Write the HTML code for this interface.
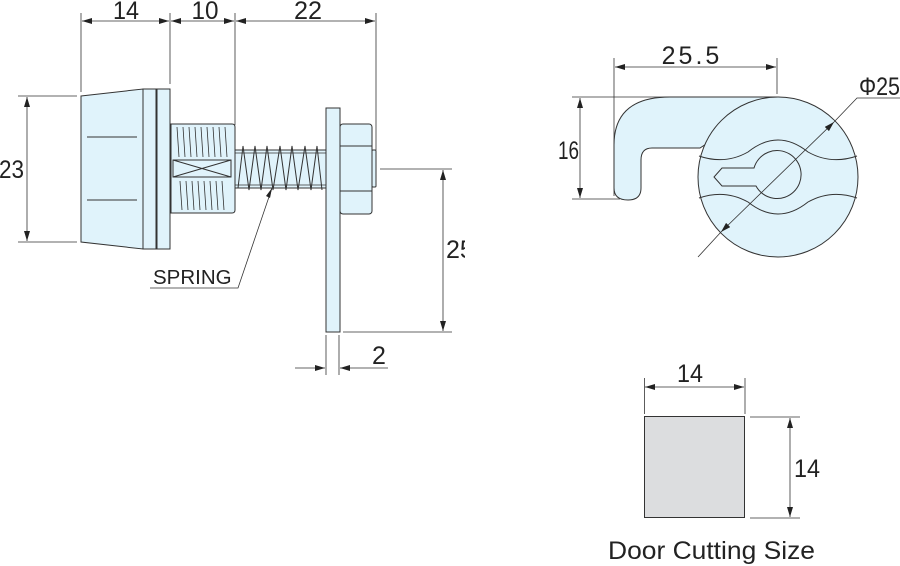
<!DOCTYPE html>
<html><head><meta charset="utf-8"><style>
html,body{margin:0;padding:0;background:#fff;width:900px;height:566px;overflow:hidden}
svg{display:block}
text{font-family:"Liberation Sans",sans-serif;fill:#222}
</style></head><body>
<svg width="900" height="566" viewBox="0 0 900 566" xmlns="http://www.w3.org/2000/svg">
<defs>
<marker id="a" viewBox="0 0 10 6" refX="10" refY="3" markerWidth="10" markerHeight="6" orient="auto-start-reverse" markerUnits="userSpaceOnUse"><path d="M0,0 L10,3 L0,6z" fill="#222"/></marker>
</defs>
<g stroke="#333" stroke-width="1" fill="#e0f3fb">
<path d="M81,96 L143,89 L143,249 L81,242 Z"/>
<rect x="143" y="89" width="13" height="160"/>
<rect x="157" y="89" width="13" height="160"/>
<line x1="156.5" y1="89" x2="156.5" y2="249" stroke-width="2"/>
<line x1="87" y1="137" x2="137" y2="137"/>
<line x1="87" y1="200" x2="137" y2="200"/>
<path d="M171,124 L232,124 Q235,124 235,127 L235,210 Q235,213 232,213 L171,213 Z"/>
<rect x="173" y="160" width="58" height="17"/>
<line x1="173" y1="160" x2="231" y2="177"/><line x1="173" y1="177" x2="231" y2="160"/>
<g stroke-width="0.8">
<path d="M177,127 l2,30 M183,127 l2,30 M189,127 l2,30 M195,127 l2,30 M201,127 l2,30 M207,127 l2,30 M213,127 l2,30 M219,127 l2,30 M225,127 l2,30"/>
<path d="M180,181 l2,29 M186,181 l2,29 M192,181 l2,29 M198,181 l2,29 M204,181 l2,29 M210,181 l2,29 M216,181 l2,29 M222,181 l2,29"/>
</g>
<rect x="235" y="150" width="91" height="38"/>
<line x1="235" y1="153" x2="326" y2="153" stroke-width="0.7"/>
<line x1="235" y1="185" x2="326" y2="185" stroke-width="0.7"/>
<path fill="none" d="M238,188 L243,146 L249,190 L255,146 L261,190 L267,146 L273,190 L280,146 L286,190 L292,146 L298,190 L305,146 L311,190 L317,146 L322,190"/>
<rect x="326" y="108" width="14" height="224"/>
<rect x="372" y="150" width="4" height="37" rx="1"/>
<rect x="340" y="124" width="32" height="90" rx="3"/>
<line x1="340" y1="146" x2="372" y2="146"/>
<line x1="340" y1="191" x2="372" y2="191"/>
</g>
<g stroke="#333" stroke-width="0.8" fill="none">
<line x1="81" y1="13" x2="81" y2="92"/>
<line x1="170" y1="13" x2="170" y2="84"/>
<line x1="235" y1="13" x2="235" y2="125"/>
<line x1="376" y1="13" x2="376" y2="150"/>
<line x1="82" y1="21" x2="169" y2="21" marker-start="url(#a)" marker-end="url(#a)"/>
<line x1="171" y1="21" x2="234" y2="21" marker-start="url(#a)" marker-end="url(#a)"/>
<line x1="236" y1="21" x2="375" y2="21" marker-start="url(#a)" marker-end="url(#a)"/>
<line x1="18" y1="96" x2="77" y2="96"/>
<line x1="18" y1="242" x2="77" y2="242"/>
<line x1="27" y1="97" x2="27" y2="241" marker-start="url(#a)" marker-end="url(#a)"/>
<line x1="380" y1="169" x2="452" y2="169"/>
<line x1="343" y1="332" x2="452" y2="332"/>
<line x1="443" y1="170" x2="443" y2="331" marker-start="url(#a)" marker-end="url(#a)"/>
<line x1="326" y1="335" x2="326" y2="375"/>
<line x1="339" y1="335" x2="339" y2="375"/>
<line x1="295" y1="368" x2="325" y2="368" marker-end="url(#a)"/>
<line x1="388" y1="368" x2="340" y2="368" marker-end="url(#a)"/>
<polyline points="150,288 238,288 272,188" />
</g>
<path d="M272,188 L266,196 L270,198 Z" fill="#222"/>
<g font-size="25">
<text x="126" y="19" text-anchor="middle" textLength="26" lengthAdjust="spacingAndGlyphs">14</text>
<text x="205" y="19" text-anchor="middle" textLength="27" lengthAdjust="spacingAndGlyphs">10</text>
<text x="308" y="19" text-anchor="middle" textLength="28" lengthAdjust="spacingAndGlyphs">22</text>
<text x="-1" y="178" textLength="25" lengthAdjust="spacingAndGlyphs">23</text>
<text x="372" y="364">2</text>
</g>
<svg x="440" y="230" width="25" height="40"><text x="6" y="28" font-size="25">25</text></svg>
<text x="153" y="284" font-size="20.5">SPRING</text>
<g stroke="#333" stroke-width="1" fill="#e0f3fb">
<path d="M700,148 L652,148 Q641,148 641,160 L641,188 Q641,200 628,200 Q614,200 614,188 L614,145 Q614,97 670,97 L778,97 Z"/>
<circle cx="778" cy="177" r="80"/>
<g fill="none">
<path d="M699,156 Q725,165 748,152 Q778,128 808,152 Q831,165 857,156"/>
<path d="M699,198 Q725,189 748,202 Q778,226 808,202 Q831,189 857,198"/>
<path d="M754,168 L722,168 L714,177 L722,186 L756,186 A24,24 0 1 0 754,168 Z"/>
</g>
</g>
<g stroke="#333" stroke-width="0.8" fill="none">
<line x1="614" y1="58" x2="614" y2="196"/>
<line x1="777" y1="58" x2="777" y2="94"/>
<line x1="615" y1="67" x2="776" y2="67" marker-start="url(#a)" marker-end="url(#a)"/>
<line x1="572" y1="97" x2="700" y2="97"/>
<line x1="572" y1="199" x2="620" y2="199"/>
<line x1="580" y1="98" x2="580" y2="198" marker-start="url(#a)" marker-end="url(#a)"/>
<line x1="698" y1="257" x2="721" y2="232"/>
<line x1="721" y1="232" x2="834" y2="122" marker-start="url(#a)" marker-end="url(#a)"/>
<polyline points="834,122 857,98 900,98"/>
</g>
<g font-size="25">
<text x="692" y="64" text-anchor="middle" letter-spacing="3">25.5</text>
<text x="558" y="159" textLength="21" lengthAdjust="spacingAndGlyphs">16</text>
<text x="859" y="95" textLength="41" lengthAdjust="spacingAndGlyphs">Φ25</text>
</g>
<rect x="644.5" y="416.5" width="100" height="101" fill="#dcdddf" stroke="#333" stroke-width="1"/>
<g stroke="#333" stroke-width="0.8" fill="none">
<line x1="644.5" y1="378" x2="644.5" y2="414"/>
<line x1="745" y1="378" x2="745" y2="414"/>
<line x1="645" y1="387" x2="744" y2="387" marker-start="url(#a)" marker-end="url(#a)"/>
<line x1="750" y1="417" x2="800" y2="417"/>
<line x1="750" y1="518" x2="800" y2="518"/>
<line x1="790" y1="418" x2="790" y2="517" marker-start="url(#a)" marker-end="url(#a)"/>
</g>
<g font-size="25">
<text x="690" y="382" text-anchor="middle" textLength="26" lengthAdjust="spacingAndGlyphs">14</text>
<text x="794" y="477" textLength="26" lengthAdjust="spacingAndGlyphs">14</text>
<text x="608" y="559" textLength="207" lengthAdjust="spacingAndGlyphs">Door Cutting Size</text>
</g>
</svg>
</body></html>
